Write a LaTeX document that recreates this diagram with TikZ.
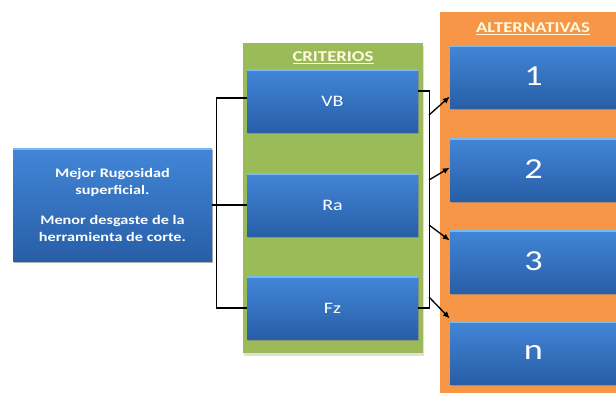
\documentclass[tikz,border=0pt]{standalone}
\usepackage{fontspec}
\setmainfont{Carlito}[FakeStretch=1.25]
\usetikzlibrary{arrows}
\usetikzlibrary{arrows.meta}
\usetikzlibrary{shadows}

\definecolor{boxtop}{RGB}{66,134,216}
\definecolor{boxbot}{RGB}{40,94,166}
\definecolor{boxedge}{RGB}{120,185,240}
\definecolor{panelgreen}{RGB}{155,187,89}
\definecolor{panelorange}{RGB}{247,150,70}
\definecolor{titletext}{RGB}{255,250,222}

\begin{document}
\begin{tikzpicture}[x=1pt,y=-1pt,
    bluebox/.style={rectangle,inner sep=0pt,top color=boxtop,bottom color=boxbot,
      text=white,drop shadow={shadow xshift=0.5pt,shadow yshift=-1.5pt,opacity=0.6},
      path picture={\draw[boxedge,line width=3pt]
        (path picture bounding box.north west) -- (path picture bounding box.north east);}},
    critbox/.style={bluebox,minimum width=171pt,minimum height=63pt,font=\fontsize{16}{18}\selectfont},
    altbox/.style={bluebox,minimum width=167pt,minimum height=63pt,font=\fontsize{29}{31}\selectfont},
    paneltitle/.style={text=titletext,font=\fontsize{15}{17}\selectfont\bfseries},
    link/.style={line width=1.3pt,black}]

    % picture frame
    \clip (0,0) rectangle (616,392);
    \fill[white] (0,0) rectangle (616,392);

    % panels
    \node[rectangle,fill=panelgreen,minimum width=180pt,minimum height=310pt,
      drop shadow={shadow xshift=1pt,shadow yshift=-3pt,opacity=0.25}] (critpanel) at (333,197.5) {};
    \node[rectangle,fill=panelorange,minimum width=190pt,minimum height=390pt] (altpanel) at (535,207) {};
    \node[paneltitle] (crittitle) at (333,58) {\underline{CRITERIOS}};
    \node[paneltitle] (alttitle) at (533,29) {\underline{ALTERNATIVAS}};

    % objective
    \node[bluebox,minimum width=199pt,minimum height=113pt,align=center,
      font=\fontsize{13}{17}\selectfont\bfseries] (obj) at (112.5,205)
      {Mejor Rugosidad\\superficial.\\[13pt]Menor desgaste de la\\herramienta de corte.};

    % criteria
    \node[critbox] (vb) at (332.5,101) {VB};
    \node[critbox] (ra) at (332.5,205) {Ra};
    \node[critbox] (fz) at (332.5,308) {Fz};

    % alternatives
    \node[altbox] (a1) at (533.5,76.5) {1};
    \node[altbox] (a2) at (533.5,169.5) {2};
    \node[altbox] (a3) at (533.5,261.5) {3};
    \node[altbox] (an) at (533.5,352.5) {n};

    % left bracket
    \draw[link] (obj.east) -- (ra.west);
    \draw[link] ([yshift=3pt]vb.west) -- ++(-30,0) |- (fz.west);

    % right bracket
    \draw[link] ([yshift=10pt]vb.east) -- ++(11,0) |- (fz.east);
    \coordinate (s1) at (429,115);
    \coordinate (s2) at (429,180);
    \coordinate (s3) at (429,225);
    \coordinate (s4) at (429,297);
    \draw[link,-{Latex[length=7pt,width=6pt]}] (s1) -- ([yshift=-20pt]a1.west);
    \draw[link,-{Latex[length=7pt,width=6pt]}] (s2) -- ([yshift=2pt]a2.west);
    \draw[link,-{Latex[length=7pt,width=6pt]}] (s3) -- ([yshift=21pt]a3.west);
    \draw[link,-{Latex[length=7pt,width=6pt]}] (s4) -- ([yshift=34pt]an.west);

\end{tikzpicture}
\end{document}
